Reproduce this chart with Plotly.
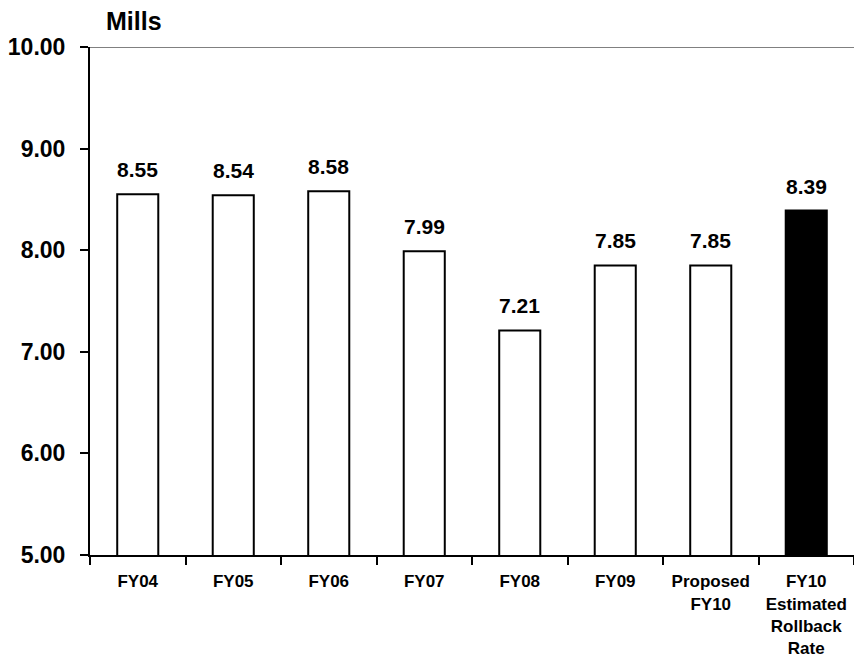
import plotly.graph_objects as go

categories = ["FY04", "FY05", "FY06", "FY07", "FY08", "FY09", "Proposed<br>FY10",
              "FY10<br>Estimated<br>Rollback<br>Rate"]
values = [8.55, 8.54, 8.58, 7.99, 7.21, 7.85, 7.85, 8.39]
value_labels = ["8.55", "8.54", "8.58", "7.99", "7.21", "7.85", "7.85", "8.39"]
fill_colors = ["white"] * 7 + ["black"]
y_ticks = [5, 6, 7, 8, 9, 10]
y_tick_labels = ["5.00", "6.00", "7.00", "8.00", "9.00", "10.00"]

FONT = "Liberation Sans, Arial, sans-serif"

fig = go.Figure()
fig.add_trace(go.Bar(
    x=categories, y=values,
    marker=dict(color=fill_colors, line=dict(color="black", width=2)),
    width=0.43, base=0,
    hoverinfo="skip",
))

annotations = []
for c, v, t in zip(categories, values, value_labels):
    annotations.append(dict(
        x=c, y=v, xref="x", yref="y", text=t, showarrow=False,
        yanchor="bottom", xanchor="center", yshift=11,
        font=dict(family=FONT, size=21, color="black", weight="bold"),
    ))
annotations.append(dict(
    x=0.057, y=1.052, xref="paper", yref="paper", text="Mills", showarrow=False,
    xanchor="center", yanchor="middle",
    font=dict(family=FONT, size=25, color="black", weight="bold"),
))

fig.update_layout(
    width=854, height=660,
    margin=dict(l=90, r=0, t=47, b=105),
    paper_bgcolor="white", plot_bgcolor="white",
    showlegend=False,
    annotations=annotations,
    shapes=[dict(type="line", xref="paper", yref="y", x0=0, x1=1, y0=10, y1=10,
                 line=dict(color="#808080", width=2), layer="below")],
)
fig.update_xaxes(
    type="category",
    showline=True, linecolor="black", linewidth=2,
    ticks="outside", ticklen=8, tickwidth=2, tickcolor="black",
    tickson="boundaries",
    showgrid=False,
    tickfont=dict(family=FONT, size=17, color="black", weight="bold"),
    ticklabelstandoff=10,
)
fig.update_yaxes(
    range=[5, 10],
    tickvals=y_ticks, ticktext=y_tick_labels,
    showline=True, linecolor="black", linewidth=2,
    ticks="outside", ticklen=8, tickwidth=2, tickcolor="black",
    showgrid=False, zeroline=False,
    tickfont=dict(family=FONT, size=23, color="black", weight="bold"),
    ticklabelstandoff=10,
)

fig.write_html("out.html", config={"displayModeBar": False},
               post_script="document.body.style.margin='0';")
